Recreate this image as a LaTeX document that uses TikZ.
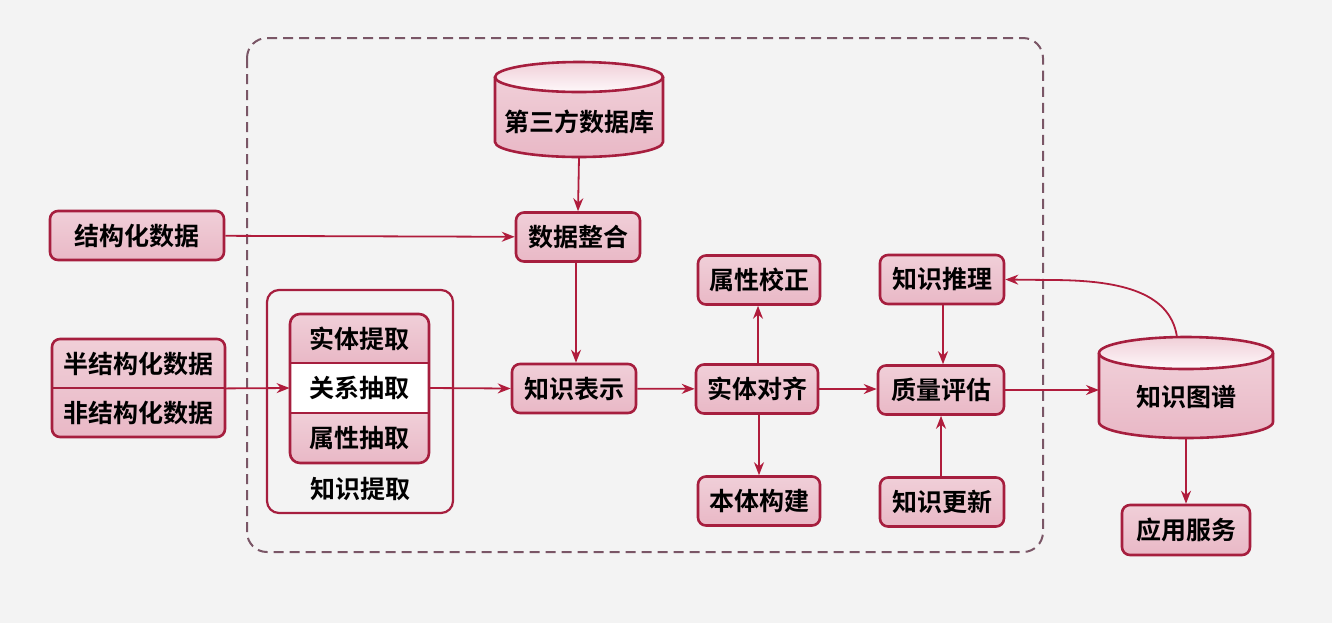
\documentclass[tikz,border=0pt]{standalone}
\usepackage{fontspec}
\setmainfont{Noto Sans CJK SC}[BoldFont={Noto Sans CJK SC Bold}]
\usetikzlibrary{arrows.meta}
\definecolor{bg}{HTML}{F3F3F3}
\definecolor{boxred}{HTML}{A61E3E}
\definecolor{arrred}{HTML}{B01C3C}
\definecolor{dashc}{HTML}{7A5666}
\definecolor{pinkT}{HTML}{F0CFD8}
\definecolor{pinkM}{HTML}{FEF8FA}
\definecolor{pinkB}{HTML}{E9B8C6}
\tikzset{
  pinkfill/.style={top color=pinkT, middle color=pinkM, bottom color=pinkB},
  rbox/.style={draw=boxred, line width=1.3pt, rounded corners=4pt, pinkfill,
    minimum width=62pt, minimum height=24.5pt, inner sep=0pt, font=\bfseries\fontsize{12.5}{12.5}\selectfont},
  txt/.style={inner sep=0pt, font=\bfseries\fontsize{12.5}{12.5}\selectfont},
  arr/.style={draw=arrred, line width=0.9pt, -{Stealth[length=6.5pt,width=5pt]}},
}
\begin{document}
\begin{tikzpicture}[x=0.5pt,y=-0.5pt]
\useasboundingbox (0,0) rectangle (1332,623);
\fill[bg] (0,0) rectangle (1332,623);
% dashed frame
\draw[dashc, line width=1pt, dash pattern=on 5pt off 3pt, rounded corners=10pt] (247,38) rectangle (1043,552);

% third-party database cylinder
\fill[pinkfill] (495,77) -- (495,142) arc[start angle=180,end angle=0,x radius=84,y radius=15] -- (663,77) -- cycle;
\draw[boxred, line width=1.3pt, top color=pinkT, bottom color=pinkM] (579,77) ellipse[x radius=84, y radius=15];
\draw[boxred, line width=1.3pt] (495,77) -- (495,142) arc[start angle=180,end angle=0,x radius=84,y radius=15] -- (663,77);
\node[txt, minimum width=84pt, minimum height=35pt] (db3) at (579,122) {第三方数据库};

% knowledge graph cylinder
\fill[pinkfill] (1099,353) -- (1099,422) arc[start angle=180,end angle=0,x radius=87,y radius=16] -- (1273,353) -- cycle;
\draw[boxred, line width=1.3pt, top color=pinkT, bottom color=pinkM] (1186,353) ellipse[x radius=87, y radius=16];
\draw[boxred, line width=1.3pt] (1099,353) -- (1099,422) arc[start angle=180,end angle=0,x radius=87,y radius=16] -- (1273,353);
\node[txt, minimum width=87pt, minimum height=41pt] (kg) at (1186,397) {知识图谱};
\coordinate (kgtop) at (1177,337);

% boxes
\node[rbox, minimum width=87pt] (jgh) at (137,235.5) {结构化数据};
\node[rbox] (sjzh) at (578,237) {数据整合};
\node[rbox] (zsbs) at (574,388.5) {知识表示};
\node[rbox, minimum width=61pt] (stdq) at (757,389) {实体对齐};
\node[rbox, minimum width=61pt] (sxjz) at (759,280) {属性校正};
\node[rbox, minimum width=61pt] (btgj) at (759,501) {本体构建};
\node[rbox, minimum width=63pt] (zlpg) at (941,390) {质量评估};
\node[rbox] (zstl) at (942,279.5) {知识推理};
\node[rbox] (zsgx) at (942,502) {知识更新};
\node[rbox, minimum width=64pt, minimum height=25pt] (yyfw) at (1186,530) {应用服务};

% semi/unstructured data double box
\draw[boxred, line width=1.3pt, rounded corners=4pt, pinkfill] (52,339) rectangle (225,437);
\draw[boxred, line width=1.3pt] (52,388) -- (225,388);
\node[txt, minimum width=86.5pt, minimum height=24.5pt] (bjg) at (138.5,363.5) {半结构化数据};
\node[txt, minimum width=86.5pt, minimum height=24.5pt] (fjg) at (138.5,412.5) {非结构化数据};

% knowledge extraction group
\draw[boxred, line width=1.1pt, rounded corners=6pt] (267,290) rectangle (453,513);
\begin{scope}
  \clip[rounded corners=5pt] (290,314) rectangle (429,463);
  \shade[pinkfill] (290,314) rectangle (429,363);
  \fill[white] (290,363) rectangle (429,413);
  \shade[pinkfill] (290,413) rectangle (429,463);
\end{scope}
\draw[boxred, line width=1.3pt, rounded corners=5pt] (290,314) rectangle (429,463);
\draw[boxred, line width=1.1pt] (290,363) -- (429,363) (290,413) -- (429,413);
\node[txt, minimum width=69.5pt, minimum height=24.5pt] (stt) at (359.5,338.5) {实体提取};
\node[txt, minimum width=69.5pt, minimum height=25pt] (gx) at (359.5,388) {关系抽取};
\node[txt, minimum width=69.5pt, minimum height=24.5pt] (sx) at (359.5,438) {属性抽取};
\node[txt] (zstq) at (360,489) {知识提取};

% connectors
\draw[arr] (jgh) -- (sjzh);
\draw[arr] (db3.south) -- (sjzh.north);
\draw[arr] (bjg.south east) -- (gx.west);
\draw[arr] (gx.east) -- (zsbs.west);
\draw[arr] (sjzh.south -| 576,0) -- (zsbs.north -| 576,0);
\draw[arr] (zsbs) -- (stdq);
\draw[arr] (stdq.north -| 758,0) -- (sxjz.south -| 758,0);
\draw[arr] (stdq.south -| 759,0) -- (btgj.north -| 759,0);
\draw[arr] (stdq) -- (zlpg.west |- stdq);
\draw[arr] (zstl.south -| 943,0) -- (zlpg.north -| 943,0);
\draw[arr] (zsgx.north -| 941,0) -- (zlpg.south -| 941,0);
\draw[arr] (zlpg.east) -- (zlpg.east -| 1099,0);
\draw[arr] (kgtop) .. controls (1170,290) and (1115,280) .. (1050,280) -- (zstl.east);
\draw[arr] (kg.south) -- (yyfw.north);
\end{tikzpicture}
\end{document}
